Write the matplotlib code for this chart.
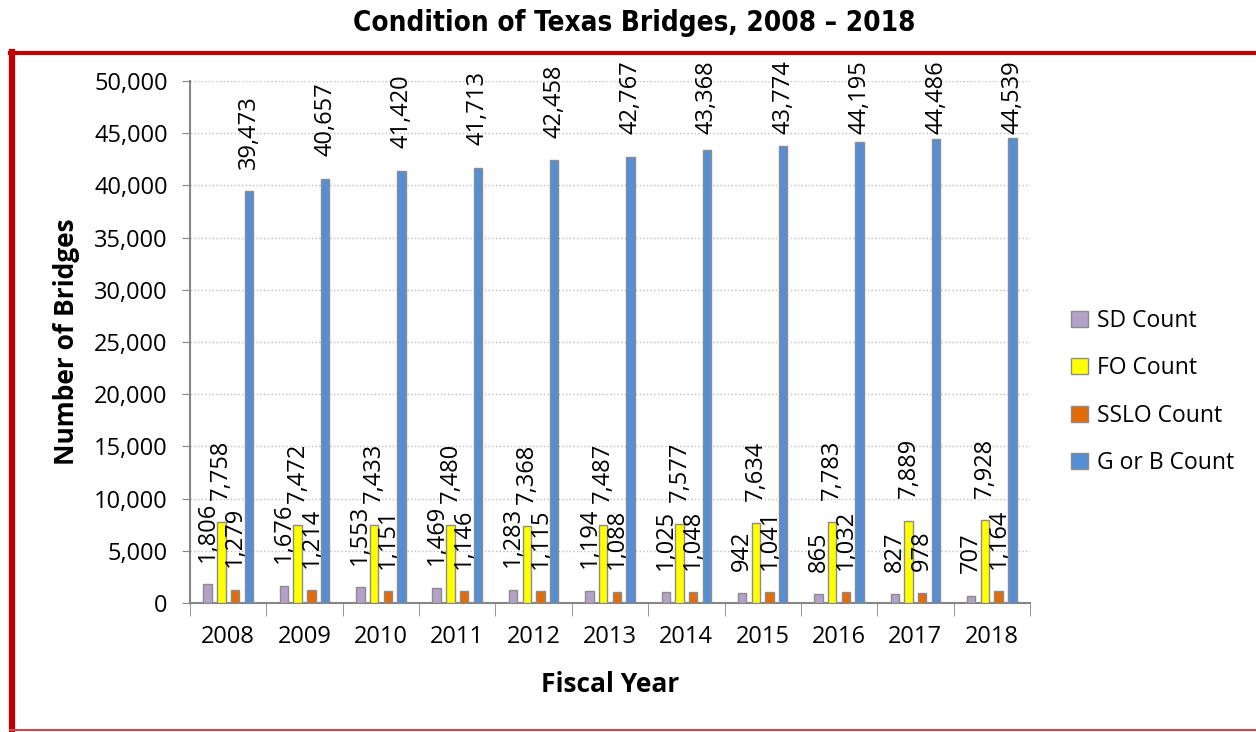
import numpy as np
import matplotlib.pyplot as plt
from matplotlib.lines import Line2D

years = ["2008", "2009", "2010", "2011", "2012", "2013", "2014", "2015", "2016", "2017", "2018"]
sd_count = [1806, 1676, 1553, 1469, 1283, 1194, 1025, 942, 865, 827, 707]
fo_count = [7758, 7472, 7433, 7480, 7368, 7487, 7577, 7634, 7783, 7889, 7928]
sslo_count = [1279, 1214, 1151, 1146, 1115, 1088, 1048, 1041, 1032, 978, 1164]
gb_count = [39473, 40657, 41420, 41713, 42458, 42767, 43368, 43774, 44195, 44486, 44539]

series = [
    ("SD Count", sd_count, "#B3A2C7"),
    ("FO Count", fo_count, "#FFFF00"),
    ("SSLO Count", sslo_count, "#E36C09"),
    ("G or B Count", gb_count, "#558ED5"),
]

plt.rcParams['font.family'] = ['Open Sans', 'DejaVu Sans']

W, H, DPI = 1256, 732, 100
fig = plt.figure(figsize=(W / DPI, H / DPI), dpi=DPI)
ax = fig.add_axes([0.1513, 0.1762, 0.6687, 0.7131])

x = np.arange(len(years))
offsets = [-0.27, -0.09, 0.09, 0.27]
width = 0.11
gap_pt = 16

labels = []
for (name, vals, color), off in zip(series, offsets):
    bars = ax.bar(x + off, vals, width, color=color, edgecolor="#8C8C8C",
                  linewidth=1.0, label=name, zorder=3)
    for b, v in zip(bars, vals):
        t = ax.annotate(f"{v:,}", (b.get_x() + b.get_width() / 2, v),
                        xytext=(0, gap_pt), textcoords="offset points",
                        rotation=90, ha="center", va="bottom", fontsize=17)
        labels.append(t)

ax.set_xlim(-0.5, len(years) - 0.5)
ax.set_ylim(0, 50000)
ax.set_yticks(np.arange(0, 50001, 5000))
ax.yaxis.set_major_formatter(plt.FuncFormatter(lambda v, p: f"{int(v):,}"))
ax.set_xticks(x)
ax.set_xticklabels(years)
ax.set_xticks(np.arange(-0.5, len(years), 1), minor=True)
ax.tick_params(axis="x", which="major", length=0, pad=16, labelsize=17)
ax.tick_params(axis="x", which="minor", length=9, color="#868686", direction="out")
ax.tick_params(axis="y", length=6, color="#868686", labelsize=17, pad=10)

ax.grid(axis="y", color="#BFBFBF", linestyle=":", linewidth=1.0, zorder=0)
for s in ["top", "right"]:
    ax.spines[s].set_visible(False)
for s in ["left", "bottom"]:
    ax.spines[s].set_color("#868686")
    ax.spines[s].set_linewidth(1.5)

ax.set_xlabel("Fiscal Year", fontsize=19, fontweight="bold", labelpad=16)
ax.set_ylabel("Number of Bridges", fontsize=19, fontweight="bold", labelpad=10)

fig.text(0.505, 0.969, "Condition of Texas Bridges, 2008 \u2013 2018",
         ha="center", va="center", fontsize=20, fontweight="bold",
         family=["DejaVu Sans"], fontstretch="condensed")

leg = ax.legend(loc="center left", bbox_to_anchor=(1060 / W, 1 - 392 / H),
                bbox_transform=fig.transFigure, frameon=False,
                fontsize=16.5, handlelength=0.7, handleheight=0.7,
                labelspacing=1.03, handletextpad=0.4, borderpad=0)

# keep tall labels inside the chart frame (like Excel does)
fig.canvas.draw()
renderer = fig.canvas.get_renderer()
top_limit = H - 60
for t in labels:
    bb = t.get_window_extent(renderer)
    if bb.y1 > top_limit:
        shift = (bb.y1 - top_limit) * 72 / DPI
        t.xyann = (0, gap_pt - shift)

# red frame around the chart
fig.add_artist(Line2D([12 / W, 12 / W], [1 - 52 / H, 1 - 731 / H],
                      transform=fig.transFigure, color="#C00000", lw=4.5))
fig.add_artist(Line2D([10 / W, 1.0], [1 - 53 / H, 1 - 53 / H],
                      transform=fig.transFigure, color="#C00000", lw=3))
fig.add_artist(Line2D([10 / W, 1.0], [1 - 730 / H, 1 - 730 / H],
                      transform=fig.transFigure, color="#C0504D", lw=1.5))

fig.savefig("out.png", dpi=DPI)
